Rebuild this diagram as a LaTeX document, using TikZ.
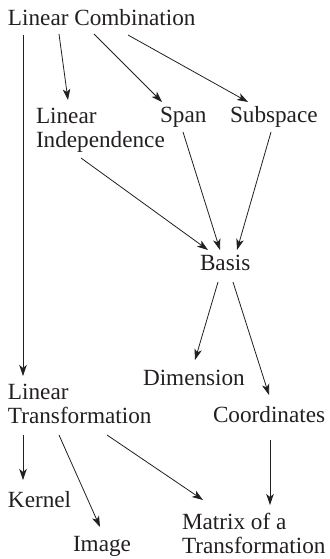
\documentclass[tikz,border=0pt]{standalone}
\usepackage{fontspec}
\setmainfont{Liberation Serif}
\usetikzlibrary{arrows.meta}
\definecolor{ink}{HTML}{231F20}
\begin{document}
\begin{tikzpicture}[x=1pt,y=-1pt,
  lbl/.style={anchor=base west,inner sep=0pt,outer sep=0pt,text=ink,align=left,
    font=\fontsize{23.2}{24}\selectfont},
  conn/.style={draw=ink,line width=0.8pt,-{Stealth[length=11pt,width=7.5pt,inset=3pt]}}]
\useasboundingbox (0,0) rectangle (329,559);
\node[lbl] (lc) at (8,26) {Linear Combination};
\node[lbl] (li) at (36,147) {Linear\\Independence};
\node[lbl] (span) at (160,123) {Span};
\node[lbl] (sub) at (230,123) {Subspace};
\node[lbl] (basis) at (200,270) {Basis};
\node[lbl] (dim) at (143,385) {Dimension};
\node[lbl] (lt) at (8,423) {Linear\\Transformation};
\node[lbl] (coord) at (213,422) {Coordinates};
\node[lbl] (kernel) at (8,507) {Kernel};
\node[lbl] (image) at (73,551) {Image};
\node[lbl] (matrix) at (182,553) {Matrix of a\\Transformation};
\draw[conn] ([shift={(51,8)}]lc.base west) -- ([shift={(32,-47)}]li.base west);
\draw[conn] ([shift={(86,8)}]lc.base west) -- ([shift={(2,-21)}]span.base west);
\draw[conn] ([shift={(120,9)}]lc.base west) -- ([shift={(18,-21)}]sub.base west);
\draw[conn] ([shift={(15,9)}]lc.base west) -- ([shift={(15,-47)}]lt.base west);
\draw[conn] ([shift={(45,11)}]li.base west) -- ([shift={(8,-20)}]basis.base west);
\draw[conn] ([shift={(23,9)}]span.base west) -- ([shift={(20,-20)}]basis.base west);
\draw[conn] ([shift={(41,9)}]sub.base west) -- ([shift={(37,-20)}]basis.base west);
\draw[conn] ([shift={(18,12)}]basis.base west) -- ([shift={(52,-25)}]dim.base west);
\draw[conn] ([shift={(33,12)}]basis.base west) -- ([shift={(56,-27)}]coord.base west);
\draw[conn] ([shift={(15,12)}]lt.base west) -- ([shift={(15,-27)}]kernel.base west);
\draw[conn] ([shift={(51,12)}]lt.base west) -- ([shift={(27,-24)}]image.base west);
\draw[conn] ([shift={(99,12)}]lt.base west) -- ([shift={(21,-53)}]matrix.base west);
\draw[conn] ([shift={(57,18)}]coord.base west) -- ([shift={(88,-48)}]matrix.base west);
\end{tikzpicture}
\end{document}
